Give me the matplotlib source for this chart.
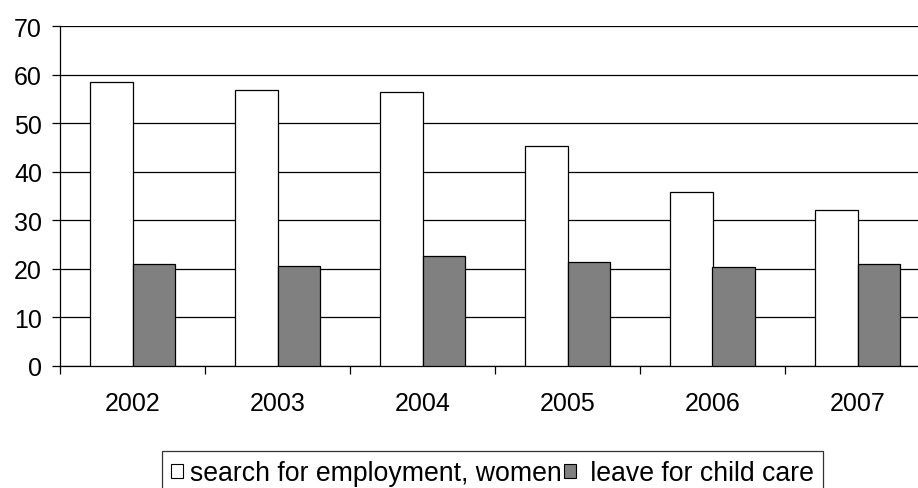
import matplotlib
matplotlib.use("Agg")
import matplotlib.pyplot as plt
import numpy as np
from matplotlib.patches import Patch

years = ["2002", "2003", "2004", "2005", "2006", "2007"]
search_women = [58.5, 56.8, 56.4, 45.3, 35.9, 32.2]
child_care = [21.0, 20.5, 22.6, 21.4, 20.3, 21.0]
y_ticks = [0, 10, 20, 30, 40, 50, 60, 70]
series_labels = ["search for employment, women", " leave for child care"]

plt.rcParams['font.family'] = ['Liberation Sans', 'DejaVu Sans']

fig = plt.figure(figsize=(9.18, 4.89), dpi=100)
ax = fig.add_axes([60 / 918, 1 - 367 / 489, 1 - 60 / 918, (367 - 27) / 489])

x = np.arange(len(years))
w = 0.29
ax.bar(x - w / 2, search_women, width=w, color="white", edgecolor="black",
       linewidth=0.9, zorder=3)
ax.bar(x + w / 2, child_care, width=w, color="#808080", edgecolor="black",
       linewidth=0.9, zorder=3)

ax.set_ylim(0, 70)
ax.set_xlim(-0.5, -0.5 + 858 / 145)
ax.set_yticks(y_ticks)
ax.set_yticklabels([str(v) for v in y_ticks], fontsize=18)
ax.yaxis.grid(True, color="black", linewidth=0.9, zorder=0)
ax.set_axisbelow(True)

# category labels centred, tick marks on the category boundaries
ax.set_xticks(x)
ax.set_xticklabels(years, fontsize=18)
ax.tick_params(axis="x", length=0, pad=18)
ax.set_xticks(np.arange(len(years)) - 0.5, minor=True)
ax.tick_params(axis="x", which="minor", length=6, width=0.9, direction="out")
ax.tick_params(axis="y", length=6, width=0.9, direction="out", pad=7)

for s in ["top", "right"]:
    ax.spines[s].set_visible(False)
ax.spines["left"].set_linewidth(0.9)
ax.spines["bottom"].set_linewidth(0.9)

handles = [Patch(facecolor="white", edgecolor="black", linewidth=0.8),
           Patch(facecolor="#808080", edgecolor="black", linewidth=0.8)]
leg = fig.legend(handles, series_labels,
                 loc="upper left", bbox_to_anchor=(162 / 918, 1 - 452 / 489),
                 ncol=2, fontsize=19.2, frameon=True, fancybox=False,
                 edgecolor="black", handlelength=0.45, handleheight=0.45,
                 handletextpad=0.25, columnspacing=0.1, borderpad=0.35,
                 borderaxespad=0)
leg.get_frame().set_linewidth(0.9)

fig.savefig("out.png", dpi=100)
